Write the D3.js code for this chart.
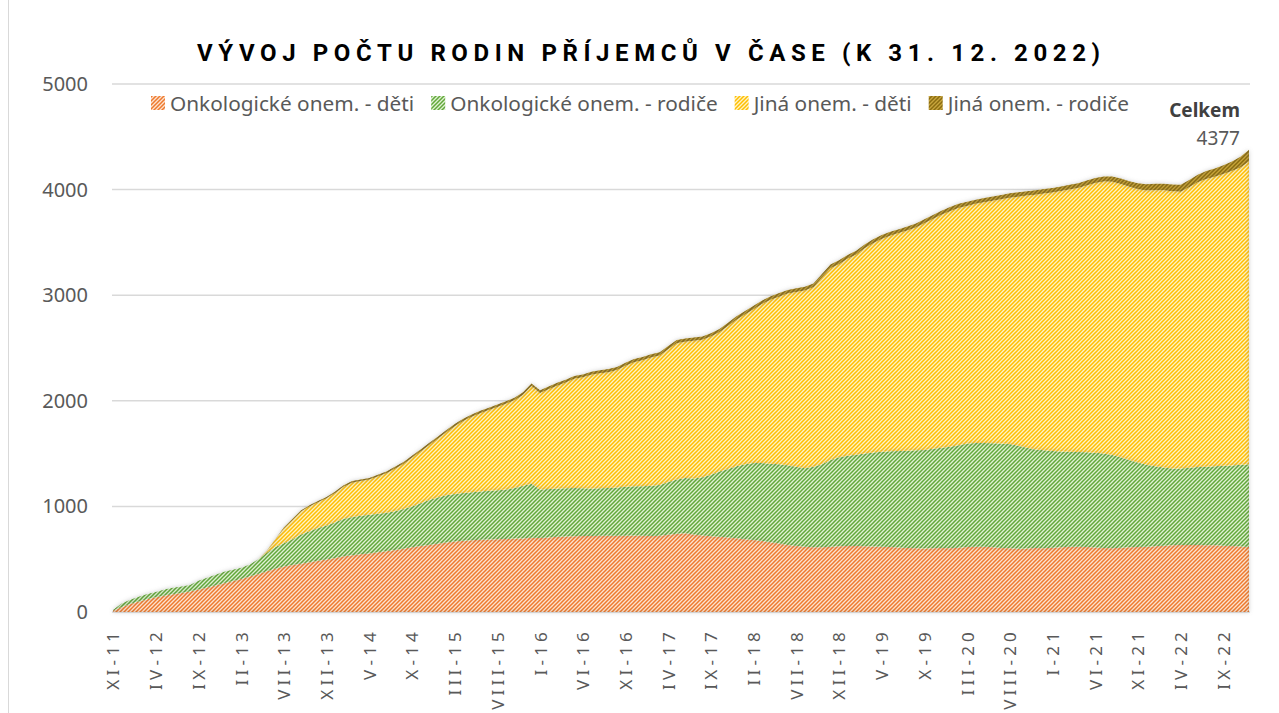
<!DOCTYPE html>
<html>
<head>
<meta charset="utf-8">
<script type="text/javascript" src="https://d3js.org/d3.v7.min.js"></script>
<title>Vývoj počtu rodin příjemců v čase</title>
<style>
body { margin:0; background:#fff; }
</style>
</head>
<body>
<div id="chart"></div>
<script type="text/javascript">
(function(){

// months (categories)
var categories = [
  "XI-11","XII-11",
  "I-12","II-12","III-12","IV-12","V-12","VI-12","VII-12","VIII-12","IX-12","X-12","XI-12","XII-12",
  "I-13","II-13","III-13","IV-13","V-13","VI-13","VII-13","VIII-13","IX-13","X-13","XI-13","XII-13",
  "I-14","II-14","III-14","IV-14","V-14","VI-14","VII-14","VIII-14","IX-14","X-14","XI-14","XII-14",
  "I-15","II-15","III-15","IV-15","V-15","VI-15","VII-15","VIII-15","IX-15","X-15","XI-15","XII-15",
  "I-16","II-16","III-16","IV-16","V-16","VI-16","VII-16","VIII-16","IX-16","X-16","XI-16","XII-16",
  "I-17","II-17","III-17","IV-17","V-17","VI-17","VII-17","VIII-17","IX-17","X-17","XI-17","XII-17",
  "I-18","II-18","III-18","IV-18","V-18","VI-18","VII-18","VIII-18","IX-18","X-18","XI-18","XII-18",
  "I-19","II-19","III-19","IV-19","V-19","VI-19","VII-19","VIII-19","IX-19","X-19","XI-19","XII-19",
  "I-20","II-20","III-20","IV-20","V-20","VI-20","VII-20","VIII-20","IX-20","X-20","XI-20","XII-20",
  "I-21","II-21","III-21","IV-21","V-21","VI-21","VII-21","VIII-21","IX-21","X-21","XI-21","XII-21",
  "I-22","II-22","III-22","IV-22","V-22","VI-22","VII-22","VIII-22","IX-22","X-22","XI-22","XII-22"
];

var tickLabels = ["XI-11","IV-12","IX-12","II-13","VII-13","XII-13","V-14","X-14","III-15",
  "VIII-15","I-16","VI-16","XI-16","IV-17","IX-17","II-18","VII-18","XII-18","V-19","X-19",
  "III-20","VIII-20","I-21","VI-21","XI-21","IV-22","IX-22"];

var yTicks = [0, 1000, 2000, 3000, 4000, 5000];

var onkoDeti = [
  15,45,75,100,120,140,155,168,180,195,
  212,232,252,272,292,312,335,360,385,410,
  430,445,458,470,485,498,512,527,538,546,
  555,565,575,587,600,612,624,634,646,658,
  668,675,680,684,687,690,692,695,697,702,
  700,705,712,715,718,720,720,722,722,723,
  723,724,722,720,722,732,740,745,735,725,
  718,713,705,698,690,682,672,660,648,634,
  625,618,613,612,618,622,625,624,622,620,
  619,615,610,606,603,602,603,605,603,608,
  615,619,619,612,606,603,600,602,605,603,
  608,612,617,619,615,610,605,603,608,612,
  616,619,622,627,632,634,635,634,633,632,
  628,624,620,616
];

var onkoRodice = [
  5,35,40,45,50,50,58,62,62,60,
  83,93,100,108,108,108,115,140,175,205,
  220,245,277,295,310,322,338,355,362,366,
  365,365,365,368,375,388,406,426,439,447,
  450,453,455,458,461,462,468,480,498,513,
  460,460,458,457,456,452,450,450,453,457,
  463,466,470,475,480,498,515,525,530,550,
  582,617,650,682,710,728,740,745,750,756,
  750,744,762,788,822,843,855,866,878,890,
  898,907,915,922,929,933,942,950,962,972,
  980,981,981,986,989,987,975,953,935,929,
  917,908,900,896,897,898,895,884,857,828,
  799,776,758,741,728,724,730,738,743,748,
  756,764,775,784
];

var jinaDeti = [
  0,0,0,0,0,0,0,0,0,0,
  0,0,0,0,0,0,0,0,18,71,
  144,182,216,235,244,258,277,304,325,328,
  334,353,373,402,427,461,491,520,555,594,
  641,680,713,740,764,789,811,830,860,924,
  914,944,973,1001,1034,1050,1077,1090,1096,1111,
  1145,1175,1193,1215,1228,1259,1289,1289,1304,1303,
  1308,1318,1353,1387,1417,1457,1505,1551,1588,1626,
  1656,1683,1700,1765,1815,1829,1864,1894,1944,1983,
  2016,2041,2063,2084,2110,2147,2177,2206,2231,2246,
  2250,2265,2280,2296,2314,2334,2358,2388,2411,2430,
  2447,2466,2484,2500,2527,2555,2577,2588,2588,2586,
  2589,2597,2615,2625,2624,2621,2657,2697,2725,2742,
  2763,2787,2815,2865
];

var jinaRodice = [
  0,0,0,0,0,0,0,0,0,0,
  0,0,0,0,0,0,0,0,2,4,
  6,8,9,10,11,12,13,14,15,15,
  16,17,17,18,18,19,19,20,20,21,
  21,22,22,23,23,24,24,25,25,26,
  26,26,27,27,27,28,28,28,29,29,
  29,30,30,30,30,31,31,31,31,32,
  32,32,32,33,33,33,33,34,34,34,
  34,35,35,35,35,36,36,36,36,37,
  37,37,37,38,38,38,38,39,39,39,
  40,40,40,41,41,41,42,42,42,43,
  43,44,44,45,46,47,48,50,52,54,
  56,58,60,62,64,66,68,71,74,78,
  83,90,100,112
];

var seriesNames = ["Onkologické onem. - děti","Onkologické onem. - rodiče","Jiná onem. - děti","Jiná onem. - rodiče"];
var seriesData = [onkoDeti, onkoRodice, jinaDeti, jinaRodice];
var lineColors = ["#EE7A2E","#62A83A","#FFBF00","#8A6C12"];
var backColors = ["#FDE2D0","#E0F2D4","#FFF3C6","#C9A63C"];

var w = 1279, h = 713;
var left = 113, right = 1249, top = 84, bottom = 612;

var rows = categories.map(function(c, i) {
  var r = {cat: c};
  seriesNames.forEach(function(n, k) { r[n] = seriesData[k][i]; });
  return r;
});

var svg = d3.select("#chart").append("svg")
  .attr("width", w).attr("height", h)
  .style("font-family", "'Noto Sans', sans-serif");

svg.append("rect").attr("width", w).attr("height", h).attr("fill", "#fff");
svg.append("line").attr("x1", 8.5).attr("x2", 8.5).attr("y1", 0).attr("y2", h)
  .attr("stroke", "#D9D9D9");

var defs = svg.append("defs");
seriesNames.forEach(function(n, k) {
  var p = defs.append("pattern").attr("id", "pat" + k)
    .attr("patternUnits", "userSpaceOnUse").attr("width", 4).attr("height", 4);
  p.append("rect").attr("width", 4).attr("height", 4).attr("fill", backColors[k]);
  p.append("path").attr("d", "M-1,1 L1,-1 M0,4 L4,0 M3,5 L5,3")
    .attr("stroke", lineColors[k]).attr("stroke-width", 1.5);
});

// inner soft edge like the office "shadow" effect
var f = defs.append("filter").attr("id", "soft")
  .attr("x", "-2%").attr("y", "-5%").attr("width", "104%").attr("height", "110%");
f.append("feGaussianBlur").attr("in", "SourceAlpha").attr("stdDeviation", 2).attr("result", "blur");
f.append("feComposite").attr("in", "SourceAlpha").attr("in2", "blur")
  .attr("operator", "arithmetic").attr("k2", 1).attr("k3", -1).attr("result", "edge");
f.append("feFlood").attr("flood-color", "#5a5a40").attr("flood-opacity", 0.45);
f.append("feComposite").attr("in2", "edge").attr("operator", "in").attr("result", "inner");
f.append("feMerge").selectAll("feMergeNode").data(["SourceGraphic", "inner"])
  .enter().append("feMergeNode").attr("in", function(d) { return d; });

var outer = defs.append("filter").attr("id", "glow")
  .attr("x", "-2%").attr("y", "-5%").attr("width", "104%").attr("height", "110%");
outer.append("feDropShadow").attr("dx", 0).attr("dy", 0).attr("stdDeviation", 2)
  .attr("flood-color", "#808080").attr("flood-opacity", 0.4);

var x = d3.scalePoint().domain(categories).range([left, right]);
var y = d3.scaleLinear().domain([0, 5000]).range([bottom, top]);

// gridlines
svg.append("g").selectAll("line").data(yTicks).enter().append("line")
  .attr("x1", 112).attr("x2", 1250)
  .attr("y1", function(d) { return y(d); }).attr("y2", function(d) { return y(d); })
  .attr("stroke", "#D9D9D9").attr("stroke-width", 1.5);

// y labels
svg.append("g").selectAll("text").data(yTicks).enter().append("text")
  .attr("x", 88).attr("y", function(d) { return y(d) + 7; })
  .attr("text-anchor", "end").attr("fill", "#595959").style("font-size", "20px")
  .text(function(d) { return d; });

var stack = d3.stack().keys(seriesNames);
var layers = stack(rows);

var area = d3.area()
  .x(function(d) { return x(d.data.cat); })
  .y0(function(d) { return y(d[0]); })
  .y1(function(d) { return y(d[1]); });

var total = d3.area()
  .x(function(d) { return x(d.data.cat); })
  .y0(y(0))
  .y1(function(d) { return y(d[1]); });

svg.append("path").datum(layers[3]).attr("d", total)
  .attr("fill", "#fff").attr("filter", "url(#glow)");

svg.append("g").selectAll("path").data(layers).enter().append("path")
  .attr("d", area)
  .attr("fill", function(d, k) { return "url(#pat" + k + ")"; })
  .attr("filter", "url(#soft)");

// x axis labels
var xAxis = d3.axisBottom(x).tickValues(tickLabels).tickSize(0).tickPadding(0);
var gx = svg.append("g").attr("transform", "translate(0," + 628 + ")").call(xAxis);
gx.select(".domain").remove();
gx.selectAll("text")
  .attr("transform", "rotate(-90)")
  .attr("x", 0).attr("y", 0).attr("dy", "0.35em").attr("dx", 0)
  .attr("text-anchor", "end")
  .attr("fill", "#595959")
  .style("font-size", "17px").style("letter-spacing", "4.2px")
  .style("font-family", "'Noto Sans', sans-serif");

// title
svg.append("text").attr("x", 197).attr("y", 61)
  .attr("textLength", 903).attr("lengthAdjust", "spacing")
  .style("font-family", "Roboto, sans-serif").style("font-weight", 700)
  .style("font-size", "24px").attr("fill", "#000")
  .text("VÝVOJ POČTU RODIN PŘÍJEMCŮ V ČASE (K 31. 12. 2022)");

// legend
var lx = 151;
seriesNames.forEach(function(n, k) {
  svg.append("rect").attr("x", lx).attr("y", 96).attr("width", 14).attr("height", 14)
    .attr("fill", "url(#pat" + k + ")");
  var t = svg.append("text").attr("x", lx + 19).attr("y", 111)
    .attr("fill", "#595959").style("font-size", "20.8px").text(n);
  lx = lx + 19 + t.node().getComputedTextLength() + 17;
});

// total label
svg.append("text").attr("x", 1240).attr("y", 117).attr("text-anchor", "end")
  .attr("fill", "#404040").style("font-size", "19px").style("font-weight", 700)
  .text("Celkem");
svg.append("text").attr("x", 1240).attr("y", 145).attr("text-anchor", "end")
  .attr("fill", "#595959").style("font-size", "19px")
  .text(d3.sum(seriesData, function(s) { return s[s.length - 1]; }));

})();
</script>
</body>
</html>
